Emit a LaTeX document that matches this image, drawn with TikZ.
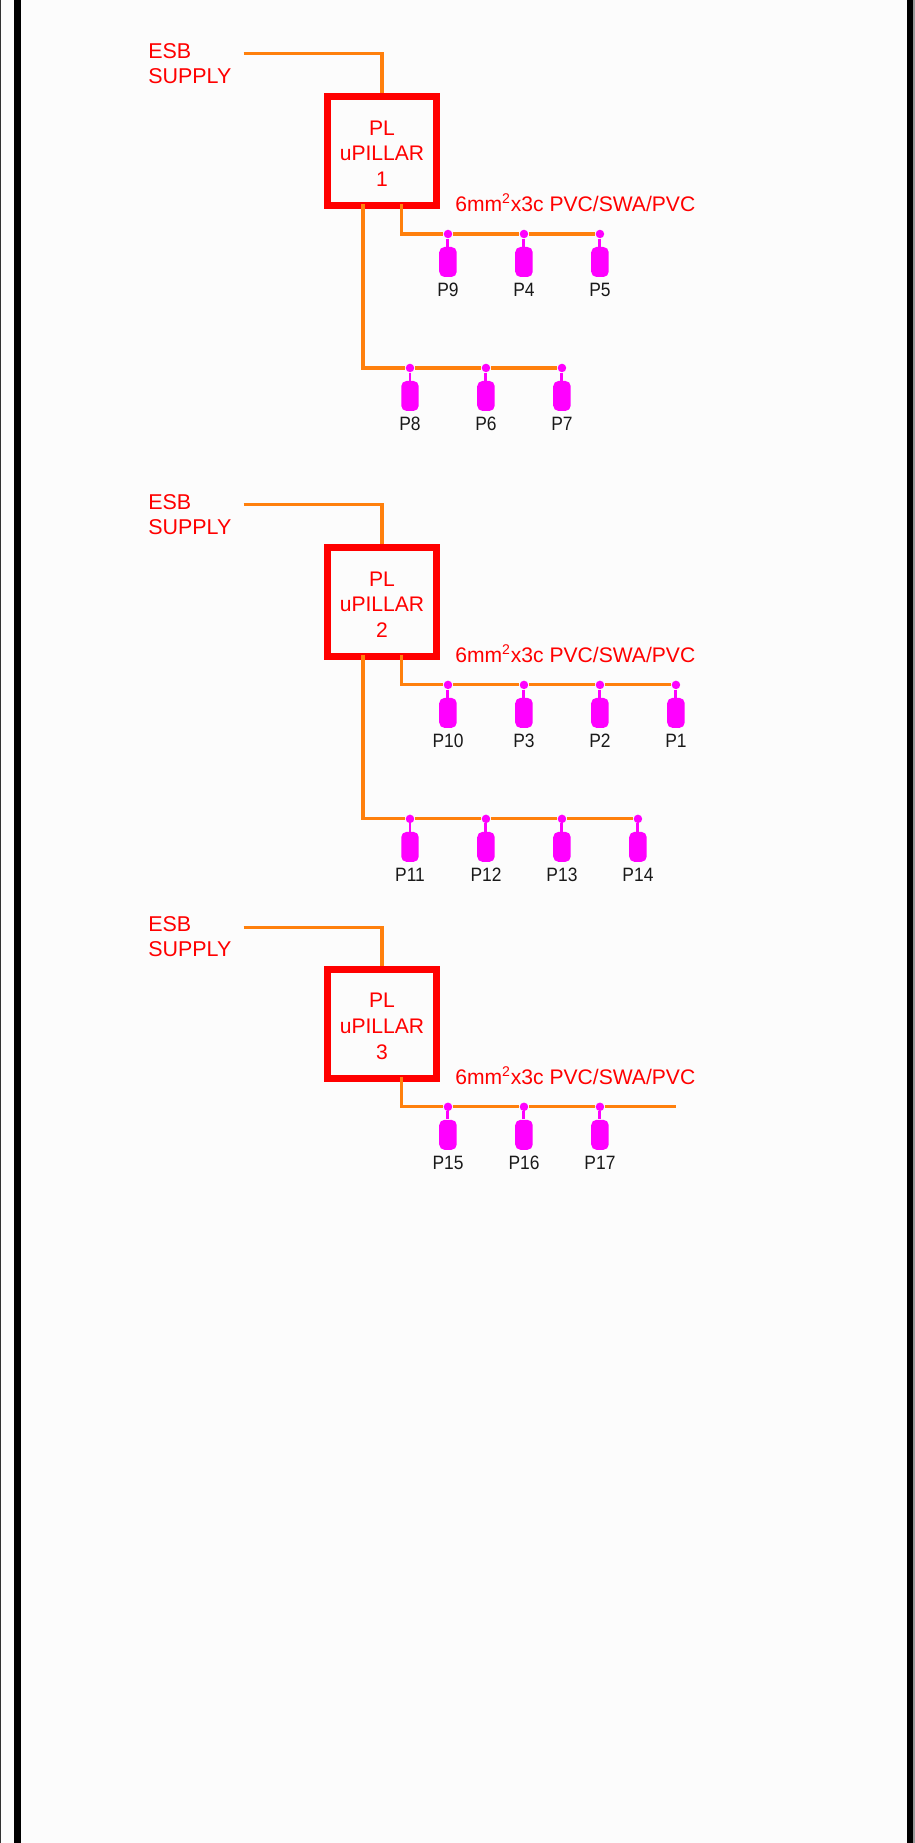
\documentclass[tikz,border=0pt]{standalone}
\usepackage{fontspec}
\setmainfont{Liberation Sans}
\newfontfamily\polefont[FakeStretch=0.9]{Liberation Sans}
\usetikzlibrary{positioning}
\definecolor{cablecolor}{rgb}{1, 0.5, 0.05}
\definecolor{polecolor}{rgb}{1, 0, 1}
\definecolor{pillarcolor}{rgb}{1, 0, 0}
\newcommand{\pillartext}[1]{\rule{0pt}{11.3pt}PL\\uPILLAR\\#1}
\tikzset{
	pillar/.style={
		rectangle,
		line width=4pt,
		draw=pillarcolor,
		text=pillarcolor,
		minimum size=2.18cm,
		align=center,
		font=\fontsize{12}{14.7}\selectfont
	},
	supply/.style={
		anchor=west,
		inner sep=0pt,
		text=pillarcolor,
		align=left,
		font=\fontsize{12.2}{14.2}\selectfont
	},
	wiretext/.style={
		anchor=base west,
		inner sep=0pt,
		text=pillarcolor,
		font=\fontsize{12}{14}\selectfont
	},
	tap/.style={
		circle,
		fill=polecolor,
		minimum size=1.7mm,
		inner sep=0pt
	},
	pole/.style={
		rectangle,
		fill=polecolor,
		rounded corners=3pt,
		minimum width=3.5mm,
		minimum height=6mm,
		inner sep=0pt
	},
	polelabel/.style={
		inner sep=0pt,
		outer sep=0pt,
		text=black!90,
		text height=7.9pt,
		font=\polefont\fontsize{11}{13}\selectfont
	},
	cable/.style={
		draw=cablecolor,
		line width=1.8pt
	},
	stub/.style={
		draw=polecolor,
		line width=1.7pt
	},
}
\begin{document}
\begin{tikzpicture}[x=0.02cm,y=-0.02cm,node distance=1.52cm,on grid,label distance=1mm]
\useasboundingbox (0,0) rectangle (915,1843);
\fill[white!99!black] (0,0) rectangle (915,1843);
% side rules
\fill[black!80] (0,0) rectangle (1.2,1843);
\fill[black] (14,0) rectangle (20.6,1843);
\fill[black] (906.7,0) rectangle (913,1843);
\fill[black!40] (913,0) rectangle (915,1843);

\node[pillar] (box1) at (382,151) {\pillartext{1}};
\node[pillar] (box2) [below=9.02cm of box1] {\pillartext{2}};
\node[pillar] (box3) [below=8.44cm of box2] {\pillartext{3}};

\node[supply] (esb1) at (148,63.5) {ESB\\SUPPLY};
\node[supply] (esb2) at (148,514.5) {ESB\\SUPPLY};
\node[supply] (esb3) at (148,936.5) {ESB\\SUPPLY};
\coordinate (in1) at (243.5,53.5);
\coordinate (in2) at (243.5,504.5);
\coordinate (in3) at (243.5,927.5);

\node[wiretext] (wire1) at (455,211) {6mm\textsuperscript{2}x3c PVC/SWA/PVC};
\node[wiretext] (wire2) at (455,662) {6mm\textsuperscript{2}x3c PVC/SWA/PVC};
\node[wiretext] (wire3) at (455,1084) {6mm\textsuperscript{2}x3c PVC/SWA/PVC};

% pillar 1
\node[tap] (t9) [below right=1.66cm and 1.32cm of box1] {};
\node[tap] (t4) [right=of t9] {};
\node[tap] (t5) [right=of t4] {};
\node[tap] (t8) [below right=4.34cm and 0.56cm of box1] {};
\node[tap] (t6) [right=of t8] {};
\node[tap] (t7) [right=of t6] {};
\node[pole,label={[polelabel]below:P9}] (p9) [below=5.6mm of t9] {};
\node[pole,label={[polelabel]below:P4}] (p4) [below=5.6mm of t4] {};
\node[pole,label={[polelabel]below:P5}] (p5) [below=5.6mm of t5] {};
\node[pole,label={[polelabel]below:P8}] (p8) [below=5.6mm of t8] {};
\node[pole,label={[polelabel]below:P6}] (p6) [below=5.6mm of t6] {};
\node[pole,label={[polelabel]below:P7}] (p7) [below=5.6mm of t7] {};

% pillar 2
\node[tap] (t10) [below right=1.66cm and 1.32cm of box2] {};
\node[tap] (t3) [right=of t10] {};
\node[tap] (t2) [right=of t3] {};
\node[tap] (t1) [right=of t2] {};
\node[tap] (t11) [below right=4.34cm and 0.56cm of box2] {};
\node[tap] (t12) [right=of t11] {};
\node[tap] (t13) [right=of t12] {};
\node[tap] (t14) [right=of t13] {};
\node[pole,label={[polelabel]below:P10}] (p10) [below=5.6mm of t10] {};
\node[pole,label={[polelabel]below:P3}] (p3) [below=5.6mm of t3] {};
\node[pole,label={[polelabel]below:P2}] (p2) [below=5.6mm of t2] {};
\node[pole,label={[polelabel]below:P1}] (p1) [below=5.6mm of t1] {};
\node[pole,label={[polelabel]below:P11}] (p11) [below=5.6mm of t11] {};
\node[pole,label={[polelabel]below:P12}] (p12) [below=5.6mm of t12] {};
\node[pole,label={[polelabel]below:P13}] (p13) [below=5.6mm of t13] {};
\node[pole,label={[polelabel]below:P14}] (p14) [below=5.6mm of t14] {};

% pillar 3
\node[tap] (t15) [below right=1.66cm and 1.32cm of box3] {};
\node[tap] (t16) [right=of t15] {};
\node[tap] (t17) [right=of t16] {};
\coordinate[right=of t17] (end3);
\node[pole,label={[polelabel]below:P15}] (p15) [below=5.6mm of t15] {};
\node[pole,label={[polelabel]below:P16}] (p16) [below=5.6mm of t16] {};
\node[pole,label={[polelabel]below:P17}] (p17) [below=5.6mm of t17] {};

\path[stub]
(t9) edge (p9) (t4) edge (p4) (t5) edge (p5)
(t8) edge (p8) (t6) edge (p6) (t7) edge (p7)
(t10) edge (p10) (t3) edge (p3) (t2) edge (p2) (t1) edge (p1)
(t11) edge (p11) (t12) edge (p12) (t13) edge (p13) (t14) edge (p14)
(t15) edge (p15) (t16) edge (p16) (t17) edge (p17)
;

\draw[cable] (in1) -| (box1.north);
\draw[cable] (in2) -| (box2.north);
\draw[cable] (in3) -| (box3.north);
\draw[cable] ([xshift=3.9mm,yshift=1mm]box1.south) |- (t9) -- (t4) -- (t5);
\draw[cable] ([xshift=-3.8mm,yshift=1mm]box1.south) |- (t8) -- (t6) -- (t7);
\draw[cable] ([xshift=3.9mm,yshift=1mm]box2.south) |- (t10) -- (t3) -- (t2) -- (t1);
\draw[cable] ([xshift=-3.8mm,yshift=1mm]box2.south) |- (t11) -- (t12) -- (t13) -- (t14);
\draw[cable] ([xshift=3.9mm,yshift=1mm]box3.south) |- (t15) -- (t16) -- (t17) -- (end3);
\end{tikzpicture}
\end{document}
